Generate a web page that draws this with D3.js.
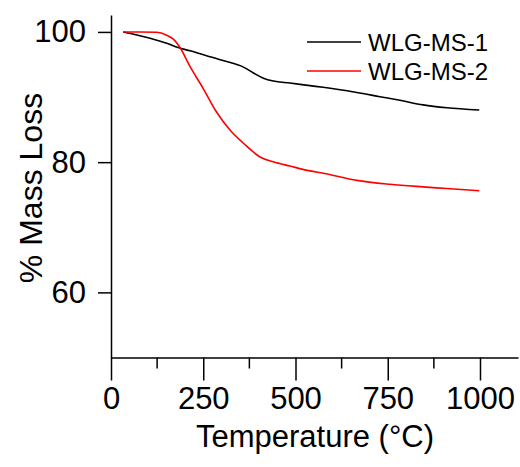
<!DOCTYPE html>
<meta charset="utf-8">
<style>
body { margin: 0; background: #fff; }
svg { font-family: Arial, "Liberation Sans", sans-serif; }
</style>
<body>
<script src="https://d3js.org/d3.v7.min.js"></script>
<script>
// series
var temp1 = [33, 106, 151, 182, 214, 259, 304, 359, 386, 413, 440, 485, 539, 575, 666, 729, 783, 846, 910, 998];
var mass1 = [100, 99.03, 98.26, 97.6, 97.1, 96.35, 95.6, 94.6, 93.7, 92.9, 92.46, 92.15, 91.75, 91.5, 90.7, 90.05, 89.5, 88.8, 88.35, 88.0];

var temp2 = [33, 79, 124, 151, 169, 187, 214, 250, 286, 323, 359, 404, 440, 485, 539, 575, 666, 756, 846, 910, 998];
var mass2 = [100, 100, 99.95, 99.5, 98.9, 97.6, 94.7, 91.3, 87.7, 84.9, 82.9, 80.8, 80.05, 79.4, 78.66, 78.3, 77.2, 76.6, 76.2, 75.95, 75.6];

var seriesNames = ["WLG-MS-1", "WLG-MS-2"];
var seriesColors = ["#000000", "#ff0000"];
var xTicks = [0, 250, 500, 750, 1000];
var xMinor = [125, 375, 625, 875];
var yTicks = [60, 80, 100];

var width = 520,
    height = 467;

var x = d3.scaleLinear().domain([0, 1103]).range([111, 518]);
var y = d3.scaleLinear().domain([50, 102.6]).range([357.5, 15]);

var svg = d3.select("body").append("svg")
    .attr("width", width)
    .attr("height", height);

// axes
var xAxis = svg.append("g")
    .attr("transform", "translate(0," + y(50) + ")")
    .call(d3.axisBottom(x).tickValues(xTicks).tickFormat(d3.format("d"))
        .tickSize(23).tickSizeOuter(0).tickPadding(6));
xAxis.append("g").selectAll("line")
    .data(xMinor)
    .enter().append("line")
    .attr("x1", function(d) { return x(d); })
    .attr("x2", function(d) { return x(d); })
    .attr("y2", 11)
    .attr("stroke", "#000")
    .attr("stroke-width", 1.5);

var yAxis = svg.append("g")
    .attr("transform", "translate(" + x(0) + ",0)")
    .call(d3.axisLeft(y).tickValues(yTicks).tickSize(13).tickSizeOuter(0).tickPadding(12));

svg.selectAll(".domain, .tick line")
    .attr("stroke", "#000")
    .attr("stroke-width", 1.5);
svg.selectAll(".tick text")
    .attr("font-size", 31)
    .attr("font-family", "Arial, 'Liberation Sans', sans-serif")
    .attr("fill", "#000");

// axis titles
svg.append("text")
    .attr("x", 315)
    .attr("y", 447)
    .attr("text-anchor", "middle")
    .attr("font-size", 31)
    .text("Temperature (°C)");

svg.append("text")
    .attr("transform", "translate(42,188)rotate(-90)")
    .attr("text-anchor", "middle")
    .attr("font-size", 32)
    .text("% Mass Loss");

// curves
var line = d3.line()
    .x(function(d) { return x(d[0]); })
    .y(function(d) { return y(d[1]); })
    .curve(d3.curveMonotoneX);

var series = [d3.zip(temp1, mass1), d3.zip(temp2, mass2)];

svg.append("g").selectAll("path")
    .data(series)
    .enter().append("path")
    .attr("d", line)
    .attr("fill", "none")
    .attr("stroke", function(d, i) { return seriesColors[i]; })
    .attr("stroke-width", 1.6);

// legend
var legend = svg.append("g").selectAll("g")
    .data(seriesNames)
    .enter().append("g")
    .attr("transform", function(d, i) { return "translate(307," + (42 + i * 29) + ")"; });
legend.append("line")
    .attr("x2", 54)
    .attr("stroke", function(d, i) { return seriesColors[i]; })
    .attr("stroke-width", 1.6);
legend.append("text")
    .attr("x", 61)
    .attr("y", 9)
    .attr("font-size", 24)
    .text(function(d) { return d; });
</script>
</body>
</html>
